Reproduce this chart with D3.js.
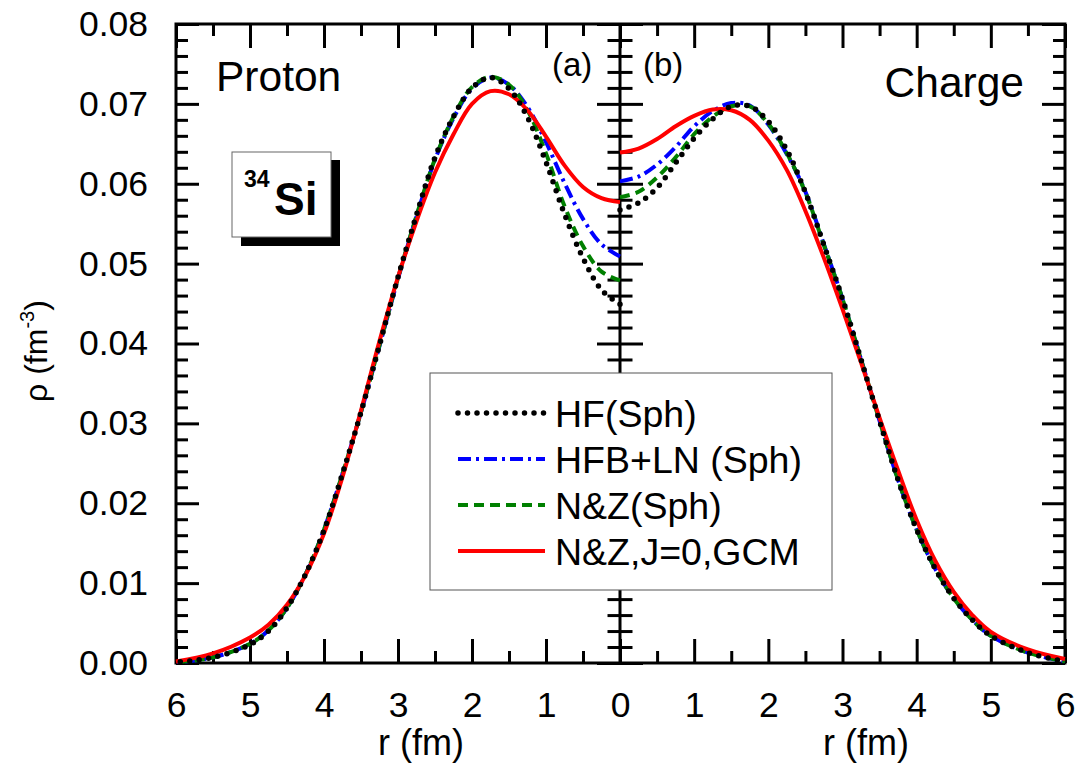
<!DOCTYPE html>
<html>
<head>
<meta charset="utf-8">
<script src="https://cdn.jsdelivr.net/npm/d3@7"></script>
<style>
  body { margin: 0; background: #fff; }
  svg { font-family: "Liberation Sans", Arial, sans-serif; }
</style>
</head>
<body>
<div id="chart"></div>
<script>
// radial grid (fm), shared by every series
const rGrid = [0, 0.25, 0.5, 0.75, 1.0, 1.25, 1.5, 1.75, 2.0, 2.25, 2.5, 2.75, 3.0,
  3.25, 3.5, 3.75, 4.0, 4.25, 4.5, 4.75, 5.0, 5.5, 6.0];

// (a) proton densities
const protonHF = [0.0449, 0.0467, 0.0507, 0.0562, 0.0627, 0.0683, 0.0719, 0.0733, 0.0720, 0.0684,
  0.0633, 0.0561, 0.0483, 0.0398, 0.0314, 0.0237, 0.0166, 0.0111, 0.0069, 0.0040, 0.0023, 0.0007, 0.0001];
const protonHFB = [0.0509, 0.0524, 0.0556, 0.0601, 0.0652, 0.0696, 0.0724, 0.0733, 0.0719, 0.0682,
  0.0630, 0.0559, 0.0481, 0.0397, 0.0314, 0.0237, 0.0167, 0.0111, 0.0069, 0.0041, 0.0024, 0.0007, 0.0001];
const protonNZ = [0.0479, 0.0490, 0.0522, 0.0572, 0.0638, 0.0692, 0.0724, 0.0734, 0.0721, 0.0684,
  0.0631, 0.0560, 0.0482, 0.0398, 0.0314, 0.0237, 0.0167, 0.0111, 0.0069, 0.0041, 0.0024, 0.0007, 0.0001];
const protonGCM = [0.0577, 0.0582, 0.0596, 0.0623, 0.0659, 0.0692, 0.0712, 0.0716, 0.0700, 0.0662,
  0.0614, 0.0553, 0.0483, 0.0403, 0.0316, 0.0233, 0.0162, 0.0110, 0.0073, 0.0048, 0.0032, 0.0012, 0.0002];

// (b) charge densities
const chargeHF = [0.0567, 0.0576, 0.0595, 0.0626, 0.0657, 0.0681, 0.0697, 0.0697, 0.0678, 0.0642,
  0.0589, 0.0523, 0.0456, 0.0380, 0.0303, 0.0229, 0.0167, 0.0118, 0.0081, 0.0054, 0.0034, 0.0013, 0.0002];
const chargeHFB = [0.0603, 0.0609, 0.0624, 0.0646, 0.0672, 0.0691, 0.0701, 0.0698, 0.0674, 0.0637,
  0.0590, 0.0524, 0.0456, 0.0380, 0.0303, 0.0229, 0.0167, 0.0118, 0.0081, 0.0054, 0.0034, 0.0013, 0.0002];
const chargeNZ = [0.0583, 0.0590, 0.0608, 0.0633, 0.0662, 0.0684, 0.0697, 0.0697, 0.0675, 0.0638,
  0.0589, 0.0523, 0.0456, 0.0380, 0.0303, 0.0229, 0.0167, 0.0118, 0.0081, 0.0054, 0.0034, 0.0013, 0.0002];
const chargeGCM = [0.0639, 0.0644, 0.0656, 0.0672, 0.0685, 0.0693, 0.0692, 0.0680, 0.0654, 0.0617,
  0.0566, 0.0507, 0.0443, 0.0376, 0.0307, 0.0241, 0.0179, 0.0128, 0.0089, 0.0060, 0.0039, 0.0017, 0.0005];

const seriesNames = ["HF(Sph)", "HFB+LN (Sph)", "N&Z(Sph)", "N&Z,J=0,GCM"];
const yTicks = [0, 0.01, 0.02, 0.03, 0.04, 0.05, 0.06, 0.07, 0.08];
const xTicksLeft = [6, 5, 4, 3, 2, 1, 0];
const xTicksRight = [1, 2, 3, 4, 5, 6];

const styles = [
  { color: "#000000", width: 5.5, dash: "0,9.5", cap: "round" },
  { color: "#0000ff", width: 4, dash: "13,5,3,5", cap: "butt" },
  { color: "#008000", width: 4, dash: "10,6", cap: "butt" },
  { color: "#ff0000", width: 4, dash: null, cap: "butt" },
];

const W = 1075, H = 763;
const pLeft = 176, pMid = 620, pRight = 1065, pTop = 24, pBottom = 663;

const svg = d3.select("#chart").append("svg").attr("width", W).attr("height", H);

const xL = d3.scaleLinear().domain([6, 0]).range([pLeft, pMid]);
const xR = d3.scaleLinear().domain([0, 6]).range([pMid, pRight]);
const y = d3.scaleLinear().domain([0, 0.08]).range([pBottom, pTop]);

const yMinor = d3.range(0, 41).filter((i) => i % 5 !== 0).map((i) => i * 0.002);
const xMinor = [0.5, 1.5, 2.5, 3.5, 4.5, 5.5];
const xMajor = [0, 1, 2, 3, 4, 5, 6];

function tickAxis(axis, tx, ty, values, size) {
  const g = svg.append("g")
    .attr("transform", `translate(${tx},${ty})`)
    .call(axis.tickValues(values).tickSize(size).tickSizeOuter(0).tickFormat(""));
  g.select(".domain").remove();
  g.selectAll("line").attr("stroke", "#000").attr("stroke-width", 3);
}

// vertical-axis ticks: left (inward), middle (both sides), right (inward)
tickAxis(d3.axisRight(y), pLeft, 0, yTicks, 23);
tickAxis(d3.axisRight(y), pLeft, 0, yMinor, 12);
tickAxis(d3.axisRight(y), pMid, 0, yTicks, 23);
tickAxis(d3.axisLeft(y), pMid, 0, yTicks, 23);
tickAxis(d3.axisRight(y), pMid, 0, yMinor, 12.5);
tickAxis(d3.axisLeft(y), pMid, 0, yMinor, 12.5);
tickAxis(d3.axisLeft(y), pRight, 0, yTicks, 23);
tickAxis(d3.axisLeft(y), pRight, 0, yMinor, 12);

// horizontal-axis ticks, top and bottom of both panels
[xL, xR].forEach((xs) => {
  tickAxis(d3.axisTop(xs), 0, pBottom, xMajor, 24);
  tickAxis(d3.axisTop(xs), 0, pBottom, xMinor, 12);
  tickAxis(d3.axisBottom(xs), 0, pTop, xMajor, 24);
  tickAxis(d3.axisBottom(xs), 0, pTop, xMinor, 12);
});

// frame
svg.append("rect")
  .attr("x", pLeft).attr("y", pTop)
  .attr("width", pRight - pLeft).attr("height", pBottom - pTop)
  .attr("fill", "none").attr("stroke", "#000").attr("stroke-width", 3);
svg.append("line")
  .attr("x1", pMid).attr("x2", pMid).attr("y1", pTop).attr("y2", pBottom)
  .attr("stroke", "#000").attr("stroke-width", 3);

// tick labels
const yLab = svg.append("g")
  .attr("transform", `translate(${pLeft},0)`)
  .call(d3.axisLeft(y).tickValues(yTicks).tickSize(0).tickPadding(28).tickFormat(d3.format(".2f")));
yLab.select(".domain").remove();
yLab.selectAll("text").attr("font-size", 35.5).attr("font-family", "Liberation Sans, Arial, sans-serif").attr("fill", "#000");

[[xL, xTicksLeft], [xR, xTicksRight]].forEach(([xs, vals]) => {
  const g = svg.append("g")
    .attr("transform", `translate(0,${pBottom})`)
    .call(d3.axisBottom(xs).tickValues(vals).tickSize(0).tickPadding(29).tickFormat(d3.format("d")));
  g.select(".domain").remove();
  g.selectAll("text").attr("font-size", 35.5).attr("font-family", "Liberation Sans, Arial, sans-serif").attr("fill", "#000");
});

// axis titles
[421, 866].forEach((cx) => {
  svg.append("text")
    .attr("x", cx).attr("y", 755)
    .attr("text-anchor", "middle")
    .attr("font-size", 36)
    .text("r (fm)");
});

const yTitle = svg.append("text")
  .attr("transform", "translate(47,351) rotate(-90)")
  .attr("text-anchor", "middle")
  .attr("font-size", 32);
yTitle.append("tspan").text("ρ (fm");
yTitle.append("tspan").attr("font-size", 20).attr("dy", -13).text("-3");
yTitle.append("tspan").attr("dy", 13).text(")");

// curves
const panels = [
  { xs: xL, series: [protonHF, protonHFB, protonNZ, protonGCM] },
  { xs: xR, series: [chargeHF, chargeHFB, chargeNZ, chargeGCM] },
];
const drawOrder = [1, 2, 3, 0];

panels.forEach(({ xs, series }) => {
  const line = d3.line()
    .x((d) => xs(d[0]))
    .y((d) => y(d[1]))
    .curve(d3.curveCatmullRom.alpha(0.5));
  drawOrder.forEach((i) => {
    const pts = rGrid.map((r, k) => [r, series[i][k]]);
    const st = styles[i];
    svg.append("path")
      .attr("d", line(pts))
      .attr("fill", "none")
      .attr("stroke", st.color)
      .attr("stroke-width", st.width)
      .attr("stroke-linecap", st.cap)
      .attr("stroke-linejoin", "round")
      .attr("stroke-dasharray", st.dash);
  });
});

// panel labels
svg.append("text").attr("x", 216).attr("y", 91).attr("font-size", 42.5).text("Proton");
svg.append("text").attr("x", 1024).attr("y", 97).attr("font-size", 42.5).attr("text-anchor", "end").text("Charge");
svg.append("text").attr("x", 552).attr("y", 76).attr("font-size", 33).text("(a)");
svg.append("text").attr("x", 643).attr("y", 76).attr("font-size", 33).text("(b)");

// 34Si box with drop shadow
svg.append("rect").attr("x", 241).attr("y", 160).attr("width", 99).attr("height", 86).attr("fill", "#000");
svg.append("rect").attr("x", 232).attr("y", 152).attr("width", 99).attr("height", 85)
  .attr("fill", "#fff").attr("stroke", "#666").attr("stroke-width", 1);
svg.append("text").attr("x", 244).attr("y", 187).attr("font-size", 23).attr("font-weight", "bold").text("34");
svg.append("text").attr("x", 274).attr("y", 215).attr("font-size", 46).attr("font-weight", "bold").text("Si");

// legend
const legX = 430, legY = 373, legW = 402, legH = 217;
const rowY = [413, 459, 505, 551];
svg.append("rect").attr("x", legX).attr("y", legY).attr("width", legW).attr("height", legH)
  .attr("fill", "#fff").attr("stroke", "#555").attr("stroke-width", 1);
seriesNames.forEach((name, i) => {
  const st = styles[i];
  svg.append("line")
    .attr("x1", 458).attr("x2", 545)
    .attr("y1", rowY[i]).attr("y2", rowY[i])
    .attr("stroke", st.color)
    .attr("stroke-width", st.width)
    .attr("stroke-linecap", st.cap)
    .attr("stroke-dasharray", st.dash);
  svg.append("text")
    .attr("x", 555).attr("y", rowY[i] + 13.5)
    .attr("font-size", 37.5)
    .text(name);
});
</script>
</body>
</html>
